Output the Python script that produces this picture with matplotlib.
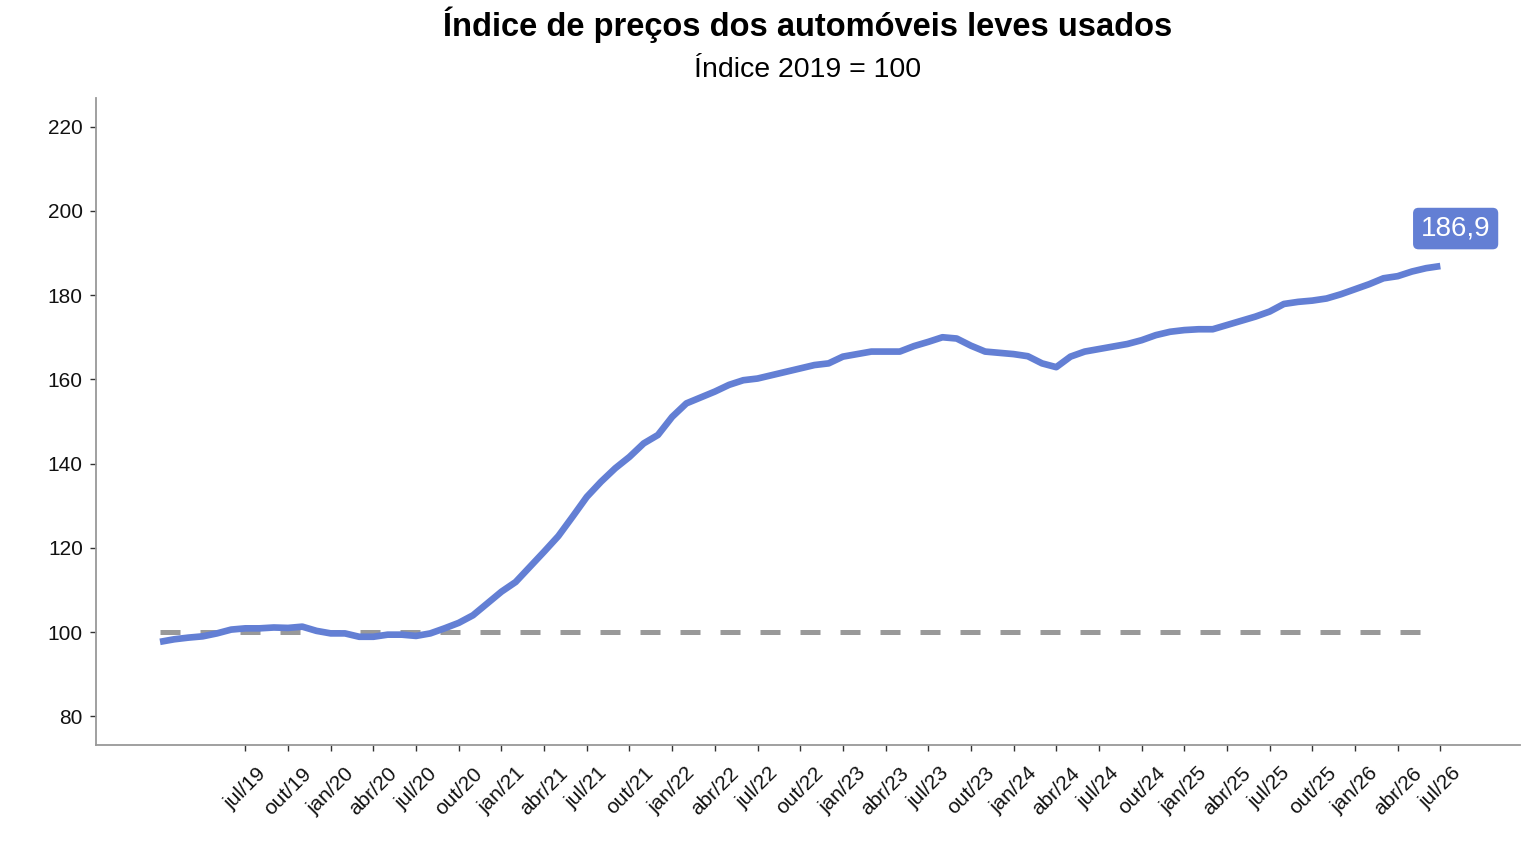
import matplotlib.pyplot as plt
import numpy as np

plt.rcParams['font.family'] = ['Liberation Sans', 'DejaVu Sans']

# índice mensal, jan/19 .. jul/26
indice = [
    97.7, 98.3, 98.7, 99.0, 99.7, 100.6, 100.9, 100.9, 101.1, 101.0, 101.3, 100.3,   # 2019
    99.7, 99.7, 98.9, 98.9, 99.4, 99.4, 99.1, 99.7, 100.9, 102.2, 104.0, 106.8,      # 2020
    109.6, 111.9, 115.5, 119.1, 122.8, 127.4, 132.1, 135.7, 138.9, 141.6, 144.8, 146.8,  # 2021
    151.1, 154.3, 155.7, 157.1, 158.7, 159.8, 160.2, 161.0, 161.8, 162.6, 163.4, 163.8,  # 2022
    165.4, 166.0, 166.6, 166.6, 166.6, 167.9, 168.9, 170.0, 169.7, 168.0, 166.6, 166.3,  # 2023
    166.0, 165.5, 163.8, 162.9, 165.4, 166.6, 167.2, 167.8, 168.4, 169.3, 170.5, 171.3,  # 2024
    171.7, 171.9, 171.9, 172.9, 173.9, 174.9, 176.1, 177.9, 178.4, 178.7, 179.2, 180.2,  # 2025
    181.4, 182.6, 184.0, 184.5, 185.6, 186.4, 186.9,                                     # 2026
]
meses = np.arange(len(indice))
base = [100] * len(indice)

tick_pos = list(range(6, len(indice), 3))
tick_labels = []
nomes = {0: 'jan', 3: 'abr', 6: 'jul', 9: 'out'}
for p in tick_pos:
    tick_labels.append(f"{nomes[p % 12]}/{19 + p // 12}")

azul = '#637fd4'

fig = plt.figure(figsize=(15.36, 8.64), dpi=100)
ax = fig.add_axes([0.0625, 0.1377, 0.9271, 0.7489])

ax.plot(meses, base, color='#999999', lw=3.6, dashes=(4, 4), solid_capstyle='butt')
ax.plot(meses, indice, color=azul, lw=4.8, solid_capstyle='butt')

ax.annotate(f"{indice[-1]:.1f}".replace('.', ','), xy=(meses[-1], indice[-1]),
            xytext=(11, 27), textcoords='offset points', ha='center', va='center',
            fontsize=20, color='white',
            bbox=dict(boxstyle='round,pad=0.28,rounding_size=0.2', fc=azul, ec='none'))

ax.set_xlim(-4.5, 95.6)
ax.set_ylim(73.2, 226.8)
ax.set_yticks([80, 100, 120, 140, 160, 180, 200, 220])
ax.set_xticks(tick_pos)
ax.set_xticklabels(tick_labels, rotation=45)

for s in ['top', 'right']:
    ax.spines[s].set_visible(False)
for s in ['left', 'bottom']:
    ax.spines[s].set_color('#999999')
    ax.spines[s].set_linewidth(1.3)
ax.tick_params(axis='both', labelsize=15, length=4.5, width=1, color='#333333', labelcolor='#111111')
ax.tick_params(axis='x', pad=9)
ax.tick_params(axis='y', pad=5)

fig.text(0.526, 0.971, "Índice de preços dos automóveis leves usados",
         ha='center', va='center', fontsize=23.5, fontweight='bold')
fig.text(0.526, 0.919, "Índice 2019 = 100", ha='center', va='center', fontsize=20.5)

fig.savefig('out.png', dpi=100)
plt.close(fig)
